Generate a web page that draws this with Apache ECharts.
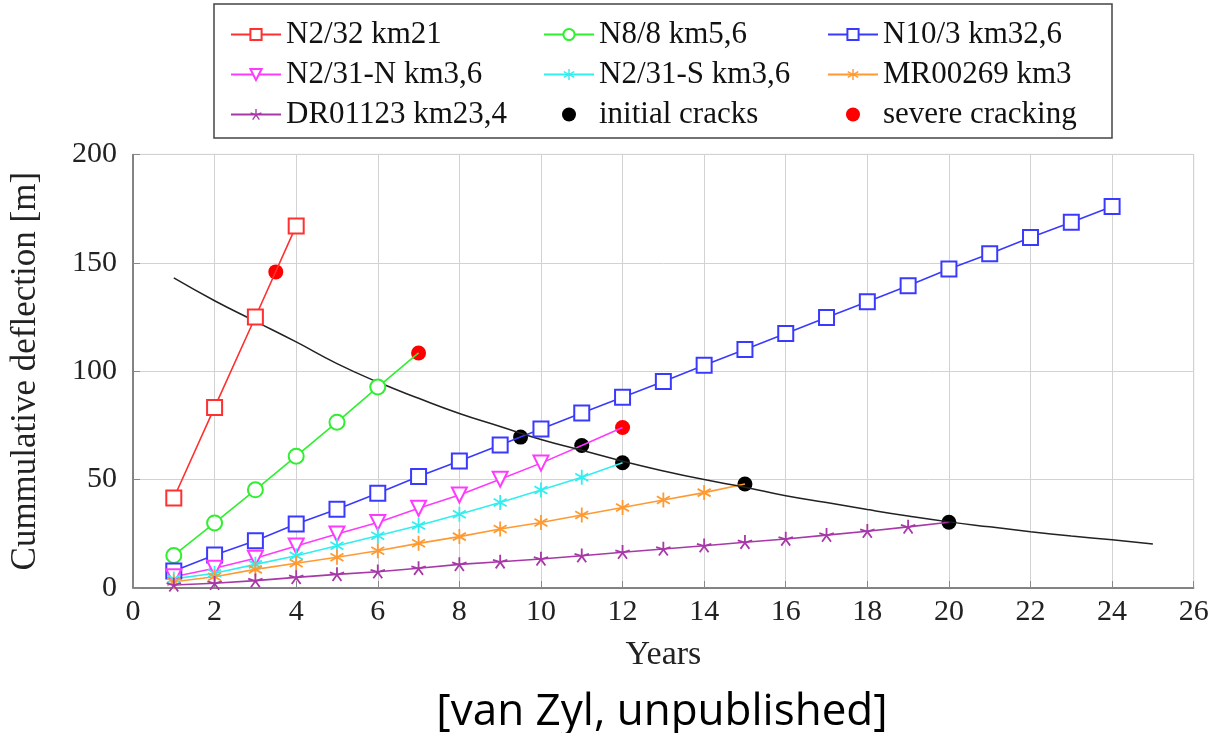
<!DOCTYPE html>
<html lang="en">
<head>
    <meta charset="UTF-8">
    <title>Cummulative deflection</title>
    <script src="https://cdn.jsdelivr.net/npm/echarts@6/dist/echarts.min.js"></script>
    <style>
        html, body { margin: 0; padding: 0; background: #fff; }
        #chart { width: 1217px; height: 733px; }
    </style>
</head>
<body>
<div id="chart"></div>
<script>
    // values, [year, deflection]
    var n232 = [[1, 41.5], [2, 83.3], [3, 125], [4, 167]];
    var n88 = [[1, 15], [2, 30], [3, 45.3], [4, 60.8], [5, 76.5], [6, 92.7]];
    var n88Tail = [[7, 108.4]];
    var n103 = [[1, 7.8], [2, 15.2], [3, 21.8], [4, 29.5], [5, 36.3], [6, 43.7], [7, 51.4], [8, 58.6],
        [9, 66], [10, 73.3], [11, 80.7], [12, 88], [13, 95.2], [14, 102.7], [15, 110], [16, 117.4],
        [17, 124.8], [18, 132], [19, 139.4], [20, 147.1], [21, 154.2], [22, 161.7], [23, 168.7], [24, 176]];
    var n231N = [[1, 5.2], [2, 9.1], [3, 13.7], [4, 19.4], [5, 24.9], [6, 30.2], [7, 36.8], [8, 42.9],
        [9, 50.2], [10, 57.6]];
    var n231NTail = [[11, 65.7], [12, 74]];
    var n231S = [[1, 4.2], [2, 6.8], [3, 10.9], [4, 14.9], [5, 19.5], [6, 24.1], [7, 28.8], [8, 34],
        [9, 39.4], [10, 45.2], [11, 51.1]];
    var n231STail = [[12, 57.8]];
    var mr269 = [[1, 2.9], [2, 5.2], [3, 8.6], [4, 11.4], [5, 14.2], [6, 17.2], [7, 20.6], [8, 23.7],
        [9, 27.2], [10, 30.2], [11, 33.7], [12, 37.1], [13, 40.6], [14, 44]];
    var mr269Tail = [[15, 48]];
    var dr1123 = [[1, 1.4], [2, 2.2], [3, 3.4], [4, 4.9], [5, 6.3], [6, 7.5], [7, 9.1], [8, 10.9],
        [9, 12.1], [10, 13.4], [11, 14.9], [12, 16.5], [13, 18], [14, 19.5], [15, 21.1], [16, 22.6],
        [17, 24.4], [18, 26.2], [19, 28.2]];
    var dr1123Tail = [[20, 30.3]];

    var initialCracks = [[3, 125], [6, 92.7], [9.5, 69.6], [11, 65.7], [12, 57.8], [15, 48], [20, 30.3]];
    var severeCracking = [[3.5, 145.8], [7, 108.4], [11, 80.7], [12, 74]];

    var fitYears = [1, 2, 3, 4, 5, 6, 7, 8, 9, 10, 11, 12, 13, 14, 15, 16, 17, 18, 19, 20, 21, 22, 23, 24, 25];
    var fitValues = [143, 132.5, 123, 113.5, 103.5, 95, 87.5, 80.5, 74.5, 68.5, 63.5, 58.5, 54, 50, 46.5,
        42.5, 39.4, 36.2, 33.2, 30.5, 28.2, 26, 24, 22.2, 20.3];

    var serif = 'Liberation Serif';

    // thin spokes drawn as filled bars, used for the asterisk / star marks
    function spokes(n, startDeg) {
        var d = '', c = 10, r = 10, w = 1.2;
        for (var i = 0; i < n; i++) {
            var a = (startDeg + i * 360 / n) * Math.PI / 180;
            var dx = Math.cos(a), dy = Math.sin(a);
            var px = -dy * w, py = dx * w;
            d += 'M' + (c + px) + ' ' + (c + py) + 'L' + (c + dx * r + px) + ' ' + (c + dy * r + py) +
                'L' + (c + dx * r - px) + ' ' + (c + dy * r - py) + 'L' + (c - px) + ' ' + (c - py) + 'Z';
        }
        return 'path://' + d;
    }
    var asterisk = spokes(6, 90);
    var star = spokes(5, -90);

    function lineSeries(name, color, symbol, pts, tail, extra) {
        var data = pts.slice();
        (tail || []).forEach(function (p) {
            data.push({value: p, symbol: 'none'});
        });
        var s = {
            name: name,
            type: 'line',
            data: data,
            symbol: symbol,
            symbolSize: 15,
            symbolKeepAspect: true,
            lineStyle: {color: color, width: 1.6},
            itemStyle: {color: color, borderWidth: 1.4},
            emphasis: {disabled: true}
        };
        for (var k in extra) s[k] = extra[k];
        return s;
    }

    var chart = echarts.init(document.getElementById('chart'));

    var legendText = {fontFamily: serif, fontSize: 31, color: '#111', lineHeight: 30};
    var legendCommon = {
        orient: 'vertical',
        top: 14,
        itemWidth: 50,
        itemHeight: 14,
        itemGap: 9,
        textStyle: legendText,
        selectedMode: false
    };

    var option = {
        animation: false,
        backgroundColor: '#fff',
        grid: {
            left: 131.6, right: 23.3, top: 154.4, bottom: 145,
            show: true, borderColor: '#cfcfcf', borderWidth: 1
        },
        legend: [
            Object.assign({left: 225, data: ['N2/32 km21', 'N2/31-N km3,6', 'DR01123 km23,4']}, legendCommon),
            Object.assign({left: 538, data: ['N8/8 km5,6', 'N2/31-S km3,6', 'initial cracks']}, legendCommon),
            Object.assign({left: 822, data: ['N10/3 km32,6', 'MR00269 km3', 'severe cracking']}, legendCommon)
        ],
        graphic: [{
            type: 'rect',
            shape: {x: 214, y: 4, width: 898, height: 134},
            style: {fill: 'none', stroke: '#444', lineWidth: 1.5},
            z: -1
        }, {
            type: 'text',
            x: 662,
            y: 712,
            style: {
                text: '[van Zyl, unpublished]',
                font: '44px "Open Sans"',
                fill: '#000',
                align: 'center',
                verticalAlign: 'middle'
            }
        }],
        xAxis: {
            type: 'value',
            min: 0, max: 26, interval: 2,
            name: 'Years',
            nameLocation: 'middle',
            nameGap: 50,
            nameTextStyle: {fontFamily: serif, fontSize: 34, color: '#222'},
            axisLine: {onZero: false, lineStyle: {color: '#666', width: 1.5}},
            axisTick: {inside: true, length: 7, lineStyle: {color: '#888'}},
            axisLabel: {fontFamily: serif, fontSize: 30, color: '#222', margin: 9},
            splitLine: {lineStyle: {color: '#d2d2d2'}}
        },
        yAxis: {
            type: 'value',
            min: 0, max: 200, interval: 50,
            name: 'Cummulative deflection [m]',
            nameLocation: 'middle',
            nameGap: 90,
            nameTextStyle: {fontFamily: serif, fontSize: 35, color: '#222'},
            axisLine: {show: true, onZero: false, lineStyle: {color: '#666', width: 1.5}},
            axisTick: {show: true, inside: true, length: 7, lineStyle: {color: '#888'}},
            axisLabel: {fontFamily: serif, fontSize: 30, color: '#222', margin: 16},
            splitLine: {lineStyle: {color: '#d2d2d2'}}
        },
        series: [
            lineSeries('N2/32 km21', '#ff3030', 'emptyRect', n232),
            lineSeries('N8/8 km5,6', '#2ef02e', 'emptyCircle', n88, n88Tail),
            lineSeries('N10/3 km32,6', '#3a3aff', 'emptyRect', n103),
            lineSeries('N2/31-N km3,6', '#ff3aff', 'emptyTriangle', n231N, n231NTail, {symbolRotate: 180}),
            lineSeries('N2/31-S km3,6', '#33eeee', asterisk, n231S, n231STail),
            lineSeries('MR00269 km3', '#ff9a33', asterisk, mr269, mr269Tail),
            lineSeries('DR01123 km23,4', '#a838a8', star, dr1123, dr1123Tail),
            {
                name: 'fit',
                type: 'line',
                smooth: true,
                symbol: 'none',
                data: fitYears.map(function (x, i) { return [x, fitValues[i]]; }),
                lineStyle: {color: '#222', width: 1.5},
                emphasis: {disabled: true}
            },
            {
                name: 'initial cracks',
                type: 'scatter',
                symbol: 'circle',
                symbolSize: 15,
                data: initialCracks,
                itemStyle: {color: '#000', opacity: 1}
            },
            {
                name: 'severe cracking',
                type: 'scatter',
                symbol: 'circle',
                symbolSize: 15,
                data: severeCracking,
                itemStyle: {color: '#ff0000', opacity: 1}
            }
        ]
    };

    chart.setOption(option);
</script>
</body>
</html>
